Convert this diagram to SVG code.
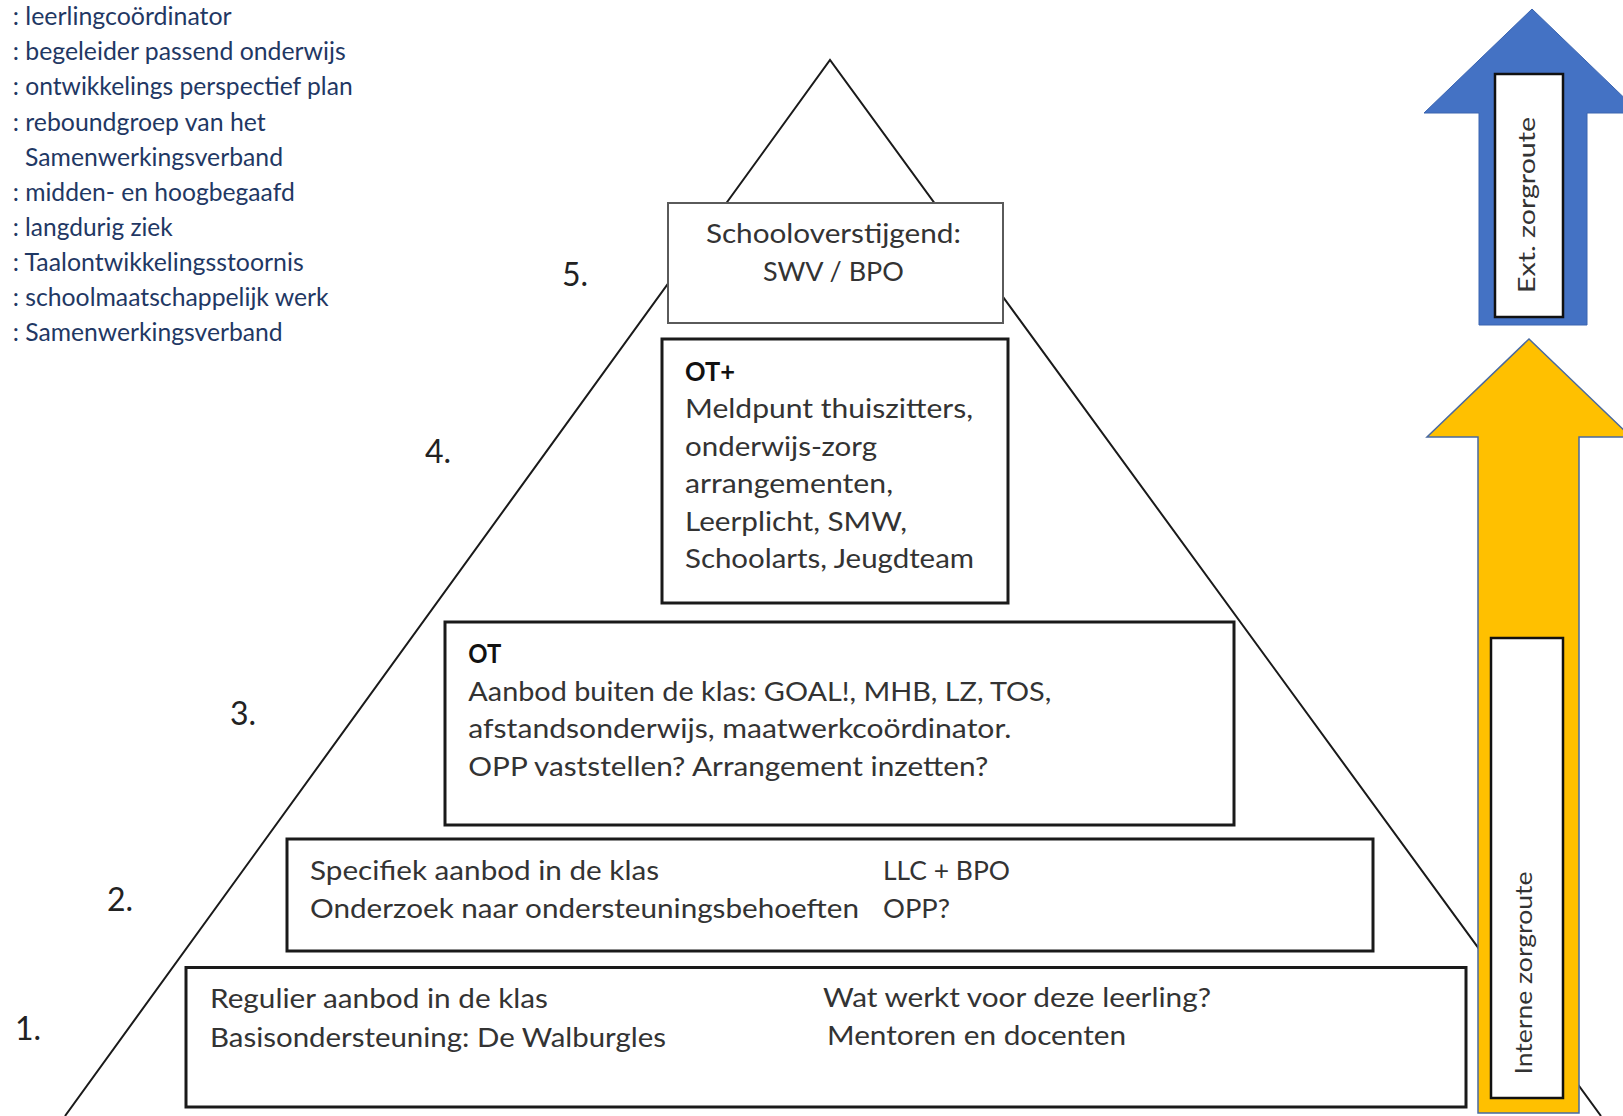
<svg xmlns="http://www.w3.org/2000/svg" width="1623" height="1116" viewBox="0 0 1623 1116">
<style>
.lg{font-family:Lato,"Open Sans","Liberation Sans",sans-serif;font-size:24.5px;fill:#1f3864}
.tx{font-family:Lato,"Open Sans","Liberation Sans",sans-serif;font-size:27.5px;fill:#333333}
.bd{font-weight:bold;fill:#111111}
.num{font-family:Lato,"Open Sans","Liberation Sans",sans-serif;font-size:32px;fill:#222222}
.vt{font-family:Lato,"Open Sans","Liberation Sans",sans-serif;font-size:23px;fill:#333333;text-anchor:middle}
.box{fill:#ffffff;stroke:#1a1a1a;stroke-width:3}
.inner{fill:#ffffff;stroke:#111111;stroke-width:2.5}
.edge{fill:none;stroke:#1a1a1a;stroke-width:2}
</style>
<rect width="1623" height="1116" fill="#ffffff"/>
<g id="legend">
<text class="lg" x="12.7" y="25.3" textLength="219" lengthAdjust="spacingAndGlyphs">: leerlingcoördinator</text>
<text class="lg" x="12.7" y="60.4" textLength="333" lengthAdjust="spacingAndGlyphs">: begeleider passend onderwijs</text>
<text class="lg" x="12.7" y="95.4" textLength="340" lengthAdjust="spacingAndGlyphs">: ontwikkelings perspectief plan</text>
<text class="lg" x="12.7" y="130.5" textLength="253" lengthAdjust="spacingAndGlyphs">: reboundgroep van het</text>
<text class="lg" x="25" y="165.5" textLength="258" lengthAdjust="spacingAndGlyphs">Samenwerkingsverband</text>
<text class="lg" x="12.7" y="200.6" textLength="282" lengthAdjust="spacingAndGlyphs">: midden- en hoogbegaafd</text>
<text class="lg" x="12.7" y="235.6" textLength="160" lengthAdjust="spacingAndGlyphs">: langdurig ziek</text>
<text class="lg" x="12.7" y="270.7" textLength="291" lengthAdjust="spacingAndGlyphs">: Taalontwikkelingsstoornis</text>
<text class="lg" x="12.7" y="305.7" textLength="316" lengthAdjust="spacingAndGlyphs">: schoolmaatschappelijk werk</text>
<text class="lg" x="12.7" y="340.8" textLength="270" lengthAdjust="spacingAndGlyphs">: Samenwerkingsverband</text>
</g>
<g id="connectors">
<polyline class="edge" points="65,1116 830,60 1601,1116"/>
</g>
<g id="levels">
<text class="num" x="562" y="286">5.</text>
<text class="num" x="425" y="463">4.</text>
<text class="num" x="230" y="725">3.</text>
<text class="num" x="107" y="910.7">2.</text>
<text class="num" x="15" y="1040">1.</text>
</g>
<g id="node-5">
<rect x="668" y="203" width="335" height="120" fill="#ffffff" stroke="#5a5a5a" stroke-width="2"/>
<text class="tx" x="833.4" y="243.3" text-anchor="middle" textLength="255" lengthAdjust="spacingAndGlyphs">Schooloverstijgend:</text>
<text class="tx" x="833.4" y="280.7" text-anchor="middle" textLength="141" lengthAdjust="spacingAndGlyphs">SWV / BPO</text>
</g>
<g id="node-4">
<rect class="box" x="662" y="339" width="346" height="264"/>
<text class="tx bd" x="685" y="380.5" textLength="50" lengthAdjust="spacingAndGlyphs">OT+</text>
<text class="tx" x="685" y="418" textLength="288" lengthAdjust="spacingAndGlyphs">Meldpunt thuiszitters,</text>
<text class="tx" x="685" y="455.5" textLength="192" lengthAdjust="spacingAndGlyphs">onderwijs-zorg</text>
<text class="tx" x="685" y="493" textLength="208" lengthAdjust="spacingAndGlyphs">arrangementen,</text>
<text class="tx" x="685" y="530.5" textLength="222" lengthAdjust="spacingAndGlyphs">Leerplicht, SMW,</text>
<text class="tx" x="685" y="568" textLength="289" lengthAdjust="spacingAndGlyphs">Schoolarts, Jeugdteam</text>
</g>
<g id="node-3">
<rect class="box" x="445" y="622" width="789" height="203"/>
<text class="tx bd" x="468.3" y="663" textLength="33" lengthAdjust="spacingAndGlyphs">OT</text>
<text class="tx" x="468.3" y="700.6" textLength="583" lengthAdjust="spacingAndGlyphs">Aanbod buiten de klas: GOAL!, MHB, LZ, TOS,</text>
<text class="tx" x="468.3" y="738.2" textLength="543" lengthAdjust="spacingAndGlyphs">afstandsonderwijs, maatwerkcoördinator.</text>
<text class="tx" x="468.3" y="775.8" textLength="520" lengthAdjust="spacingAndGlyphs">OPP vaststellen? Arrangement inzetten?</text>
</g>
<g id="node-2">
<rect class="box" x="287" y="839" width="1086" height="112"/>
<text class="tx" x="310" y="879.5" textLength="349" lengthAdjust="spacingAndGlyphs">Specifiek aanbod in de klas</text>
<text class="tx" x="310" y="917.5" textLength="549" lengthAdjust="spacingAndGlyphs">Onderzoek naar ondersteuningsbehoeften</text>
<text class="tx" x="883" y="880" textLength="127" lengthAdjust="spacingAndGlyphs">LLC + BPO</text>
<text class="tx" x="883" y="918" textLength="67" lengthAdjust="spacingAndGlyphs">OPP?</text>
</g>
<g id="node-1">
<rect class="box" x="186" y="967.5" width="1280" height="139.5"/>
<text class="tx" x="210" y="1008.3" textLength="338" lengthAdjust="spacingAndGlyphs">Regulier aanbod in de klas</text>
<text class="tx" x="210" y="1046.5" textLength="456" lengthAdjust="spacingAndGlyphs">Basisondersteuning: De Walburgles</text>
<text class="tx" x="823" y="1006.7" textLength="388" lengthAdjust="spacingAndGlyphs">Wat werkt voor deze leerling?</text>
<text class="tx" x="827" y="1045" textLength="299" lengthAdjust="spacingAndGlyphs">Mentoren en docenten</text>
</g>
<g id="arrow-ext">
<polygon points="1532,9 1640,113 1587,113 1587,325 1479,325 1479,113 1424,113" fill="#4472c4" stroke="#3a64b0" stroke-width="1"/>
<rect class="inner" x="1495" y="74" width="68" height="243"/>
<text class="vt" transform="translate(1527,205) rotate(-90)" y="8" textLength="176" lengthAdjust="spacingAndGlyphs">Ext. zorgroute</text>
</g>
<g id="arrow-intern">
<polygon points="1529,339 1631,437 1579,437 1579,1113 1478,1113 1478,437 1427,437" fill="#ffc000" stroke="#4a6aa0" stroke-width="1.5"/>
<rect class="inner" x="1491" y="638" width="72" height="460"/>
<text class="vt" transform="translate(1524,973) rotate(-90)" y="8" textLength="203" lengthAdjust="spacingAndGlyphs">Interne zorgroute</text>
</g>
</svg>
